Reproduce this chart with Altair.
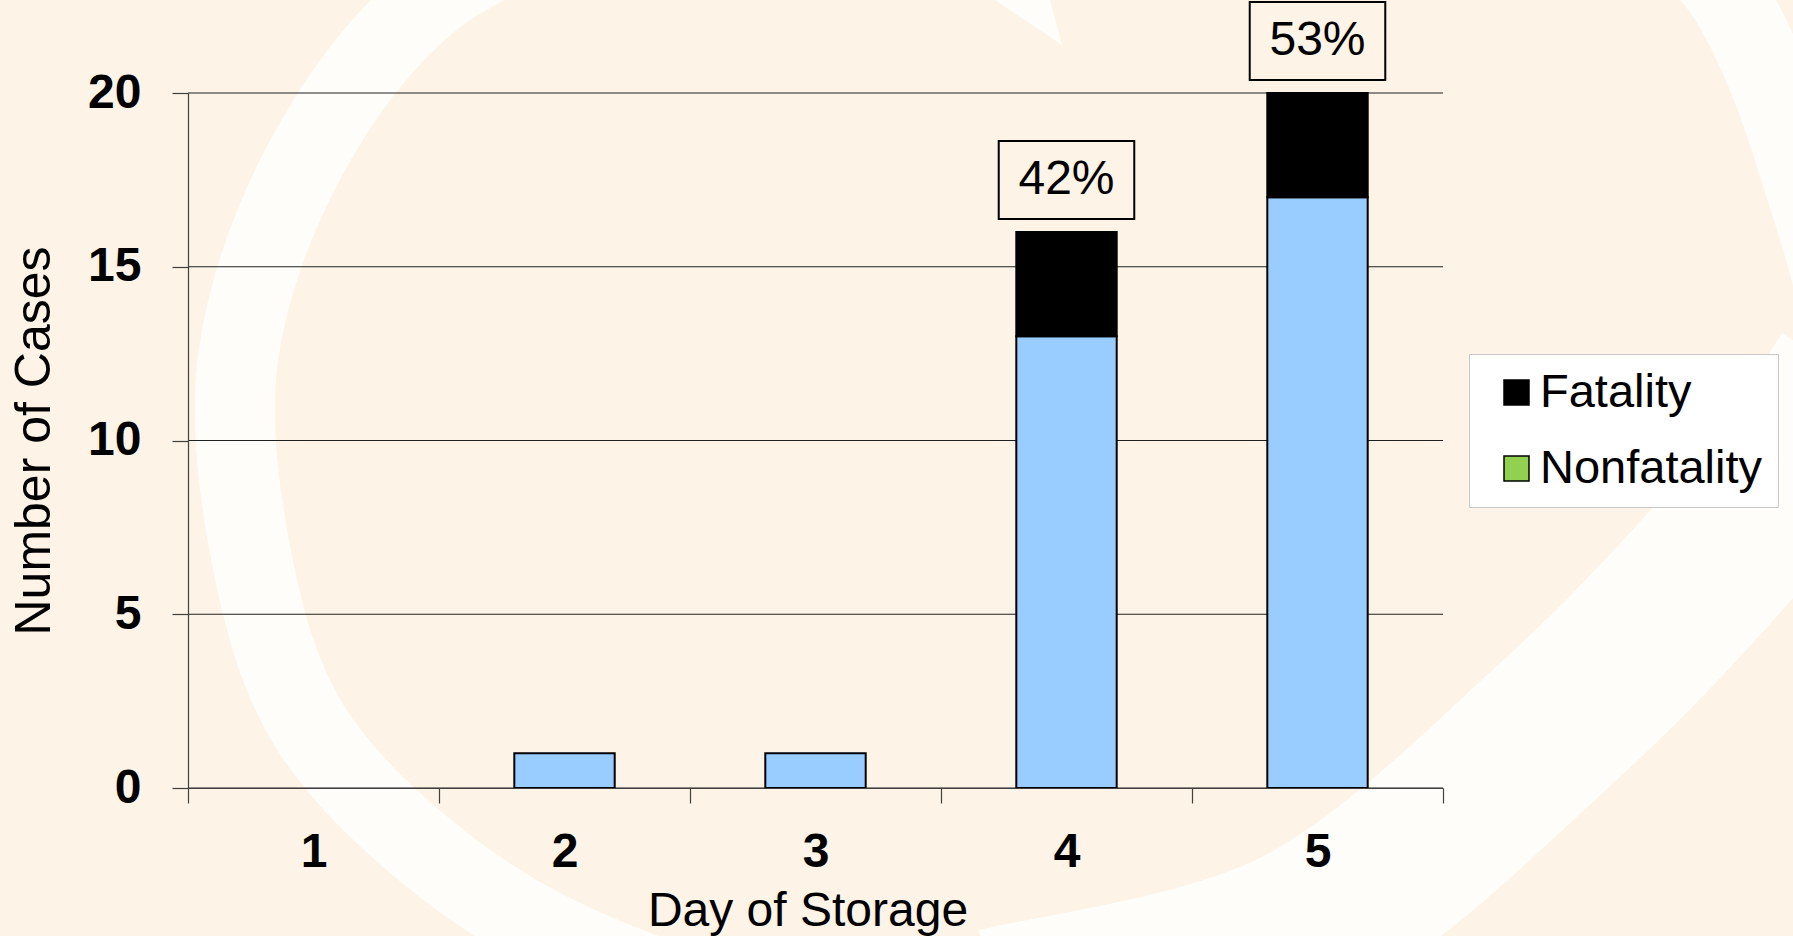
import altair as alt
import pandas as pd

# ---- data ----
days = [1, 2, 3, 4, 5]
nonfatal = [0, 1, 1, 13, 17]
fatal = [0, 0, 0, 3, 3]
pct_days = [4, 5]
pct_labels = ["42%", "53%"]
series = ["Fatality", "Nonfatality"]
bar_colors = ["#000000", "#99CCFF"]
legend_colors = ["#000000", "#92D050"]
y_ticks = [0, 5, 10, 15, 20]

# ---- layout ----
W, H = 1255, 695
PAD_L, PAD_T = 188, 93
BG = "#FDF3E6"
FONT = "Liberation Sans"

rows = []
for d, n, f in zip(days, nonfatal, fatal):
    if n:
        rows.append(dict(day=d, series="Nonfatality", y0=0, y1=n))
    if f:
        rows.append(dict(day=d, series="Fatality", y0=n, y1=n + f))
bars_df = pd.DataFrame(rows)

totals = {d: n + f for d, n, f in zip(days, nonfatal, fatal)}
ann_df = pd.DataFrame({"day": pct_days, "label": pct_labels,
                       "total": [totals[d] for d in pct_days]})
legend_df = pd.DataFrame({"series": series})
grid_df = pd.DataFrame({"v": y_ticks})

edges = [d - 0.5 for d in days] + [days[-1] + 0.5]
xscale = alt.Scale(domain=[edges[0], edges[-1]], nice=False, zero=False)
yscale = alt.Scale(domain=[0, 20], nice=False)

xaxis = alt.Axis(values=edges, labelExpr="datum.value < %s ? format(datum.value + 0.5, 'd') : ''" % (edges[-1] - 0.1),
                 labelOffset=W / len(days) / 2, tickSize=15, labelPadding=25,
                 labelFontSize=48, labelFontWeight="bold", labelFont=FONT, labelColor="black",
                 labelAngle=0, labelFlush=False, labelOverlap=False, grid=False, zindex=1,
                 domainColor="#404040", tickColor="#404040", domainWidth=1.2, tickWidth=1.2,
                 titleFontSize=48, titleFontWeight="normal", titleFont=FONT, titleColor="black",
                 titleBaseline="alphabetic", titleY=137, titleX=W / 2 - 8)
yaxis = alt.Axis(values=y_ticks, tickSize=16, labelPadding=31,
                 labelFontSize=48, labelFontWeight="bold", labelFont=FONT, labelColor="black",
                 grid=False, zindex=1,
                 domainColor="#404040", tickColor="#404040", domainWidth=1.2, tickWidth=1.2,
                 titleFontSize=50, titleFontWeight="normal", titleFont=FONT, titleColor="black",
                 titleBaseline="alphabetic", titleX=-139)


def X(field):
    return alt.X(field, type="quantitative", scale=xscale, axis=xaxis, title="Day of Storage")


def Y(field):
    return alt.Y(field, type="quantitative", scale=yscale, axis=yaxis, title="Number of Cases")


# ---- decorative background swoosh (slide template) ----
def smooth_path(pts, close=False):
    n = len(pts)
    d = "M%.1f,%.1f" % pts[0]
    for i in range(n - 1):
        p0 = pts[i - 1] if i > 0 else pts[i]
        p1, p2 = pts[i], pts[i + 1]
        p3 = pts[i + 2] if i + 2 < n else pts[i + 1]
        c1 = (p1[0] + (p2[0] - p0[0]) / 6, p1[1] + (p2[1] - p0[1]) / 6)
        c2 = (p2[0] - (p3[0] - p1[0]) / 6, p2[1] - (p3[1] - p1[1]) / 6)
        d += "C%.1f,%.1f,%.1f,%.1f,%.1f,%.1f" % (c1 + c2 + p2)
    return d + ("Z" if close else "")


def rel(pts):
    return [(x - PAD_L, y - PAD_T) for x, y in pts]


ring_pts = rel([(610, -90), (430, 0), (305, 160), (238, 358), (252, 560), (312, 730),
                (450, 870), (610, 960), (800, 1010), (1050, 1000), (1300, 930),
                (1560, 720), (1760, 510), (1840, 360), (1800, 170), (1730, 0), (1640, -90)])
swoosh_pts = rel([(1000, 1010), (1300, 930), (1560, 720), (1760, 510), (1850, 380)])
arrow_pts = rel([(965, -20), (1045, -20), (1062, 45)])
arrow_path = "M%.1f,%.1fL%.1f,%.1fL%.1f,%.1fZ" % (arrow_pts[0] + arrow_pts[1] + arrow_pts[2])

deco_df = pd.DataFrame({"k": [0]})
RING = "#FFFDF9"
ring = alt.Chart(deco_df).mark_point(shape=smooth_path(ring_pts), size=4, filled=False,
                                     stroke=RING, strokeWidth=80, opacity=1).encode(
    x=alt.value(0), y=alt.value(0))
swoosh = alt.Chart(deco_df).mark_point(shape=smooth_path(swoosh_pts), size=4, filled=False,
                                       stroke=RING, strokeWidth=165, opacity=1).encode(
    x=alt.value(0), y=alt.value(0))
arrow = alt.Chart(deco_df).mark_point(shape=arrow_path, size=4, filled=True, fill=RING,
                                      strokeWidth=0, opacity=1).encode(
    x=alt.value(0), y=alt.value(0))

# ---- horizontal gridlines at the y ticks ----
grid = alt.Chart(grid_df).mark_rule(color="#202020", strokeWidth=1.1).encode(
    y=Y("v"), x=alt.value(0), x2=alt.value(W))

# ---- bars ----
bars = alt.Chart(bars_df).transform_calculate(
    xa="datum.day - 0.2", xb="datum.day + 0.2"
).mark_bar(stroke="black", strokeWidth=2).encode(
    x=X("xa"), x2="xb:Q", y=Y("y0"), y2="y1:Q",
    color=alt.Color("series:N", scale=alt.Scale(domain=series, range=bar_colors), legend=None),
)

# ---- percentage boxes ----
boxes = alt.Chart(ann_df).transform_calculate(
    xa="datum.day - 0.27", xb="datum.day + 0.27"
).mark_rect(fillOpacity=0, stroke="black", strokeWidth=2, yOffset=-91, y2Offset=-13).encode(
    x=X("xa"), x2="xb:Q", y=Y("total"), y2="total:Q"
)
texts = alt.Chart(ann_df).mark_text(fontSize=48, font=FONT, color="black", dy=-52,
                                    baseline="middle", align="center").encode(
    x=X("day"), y=Y("total"), text="label:N"
)

# ---- legend (as in the original, legend swatch for Nonfatality is green) ----
legend_layer = alt.Chart(legend_df).mark_square(opacity=0, size=10).encode(
    x=alt.value(0), y=alt.value(0),
    fill=alt.Fill("series:N", scale=alt.Scale(domain=series, range=legend_colors),
                  legend=alt.Legend(title=None, orient="none", legendX=1469 - PAD_L, legendY=354 - PAD_T,
                                    direction="vertical", fillColor="white", strokeColor="#C8C8C8",
                                    padding=15, rowPadding=28, symbolType="square", symbolSize=625,
                                    symbolStrokeColor="black", symbolStrokeWidth=1.5, symbolOpacity=1,
                                    symbolOffset=9, labelOffset=0,
                                    labelFontSize=47, labelFont=FONT, labelColor="black",
                                    labelLimit=400)),
)

chart = alt.layer(ring, swoosh, arrow, grid, bars, boxes, texts, legend_layer).resolve_scale(
    color="independent", fill="independent"
).properties(
    width=W, height=H,
    padding={"left": PAD_L, "top": PAD_T, "right": 1793 - PAD_L - W, "bottom": 936 - PAD_T - H},
    autosize=alt.AutoSizeParams(type="none"),
    background=BG,
).configure(font=FONT).configure_view(stroke=None)

chart.save("out.html", embed_options={"renderer": "svg", "actions": False})
